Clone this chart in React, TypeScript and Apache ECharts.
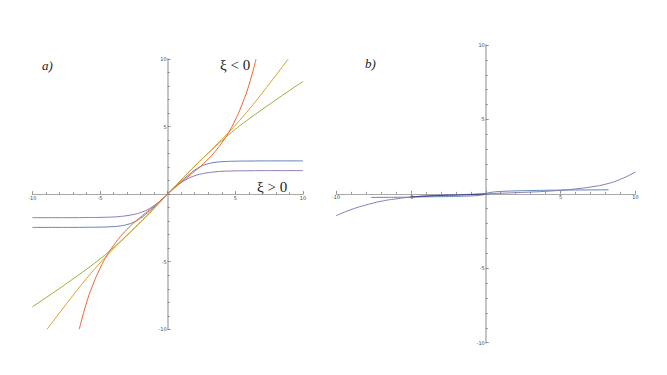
import React, { useEffect, useRef } from "react";
import * as echarts from "echarts";

// ---------- data ----------
const axisTicks = [-10, -5, 0, 5, 10];

// panel a)
const blueA: [number, number][] = [
  [-10, -2.46], [-9, -2.46], [-8, -2.46], [-7, -2.46], [-6, -2.45], [-5, -2.44], [-4, -2.4],
  [-3.5, -2.35], [-3, -2.25], [-2.5, -2.07], [-2, -1.78], [-1.5, -1.38], [-1, -0.95], [-0.5, -0.49],
  [0, 0], [0.5, 0.49], [1, 0.95], [1.5, 1.38], [2, 1.78], [2.5, 2.07], [3, 2.25], [3.5, 2.35],
  [4, 2.4], [5, 2.44], [6, 2.45], [7, 2.46], [8, 2.46], [9, 2.46], [10, 2.46],
];
const purpleA: [number, number][] = [
  [-10, -1.74], [-9, -1.74], [-8, -1.74], [-7, -1.74], [-6, -1.73], [-5, -1.72], [-4, -1.69],
  [-3.5, -1.65], [-3, -1.59], [-2.5, -1.5], [-2, -1.36], [-1.5, -1.15], [-1, -0.85], [-0.5, -0.47],
  [0, 0], [0.5, 0.47], [1, 0.85], [1.5, 1.15], [2, 1.36], [2.5, 1.5], [3, 1.59], [3.5, 1.65],
  [4, 1.69], [5, 1.72], [6, 1.73], [7, 1.74], [8, 1.74], [9, 1.74], [10, 1.74],
];
const greenA: [number, number][] = [
  [-10, -8.34], [-9, -7.67], [-8, -6.98], [-7, -6.28], [-6, -5.56], [-5, -4.8], [-4, -3.95],
  [-3.5, -3.5], [-3, -3.04], [-2.5, -2.57], [-2, -2.08], [-1.5, -1.58], [-1, -1.06], [-0.5, -0.53],
  [0, 0], [0.5, 0.53], [1, 1.06], [1.5, 1.58], [2, 2.08], [2.5, 2.57], [3, 3.04], [3.5, 3.5],
  [4, 3.95], [5, 4.8], [6, 5.56], [7, 6.28], [8, 6.98], [9, 7.67], [10, 8.34],
];
const orangeA: [number, number][] = [
  [-8.91, -10], [-8, -8.8], [-7, -7.5], [-6, -6.25], [-5, -5.1], [-4, -4.05], [-3.5, -3.55],
  [-3, -3.05], [-2.5, -2.55], [-2, -2.05], [-1.5, -1.55], [-1, -1.04], [-0.5, -0.52],
  [0, 0], [0.5, 0.52], [1, 1.04], [1.5, 1.55], [2, 2.05], [2.5, 2.55], [3, 3.05], [3.5, 3.55],
  [4, 4.05], [5, 5.1], [6, 6.25], [7, 7.5], [8, 8.8], [8.91, 10],
];
const redA: [number, number][] = [
  [-6.53, -10], [-6, -8.05], [-5.5, -6.65], [-5, -5.5], [-4.5, -4.55], [-4, -3.8], [-3.5, -3.15],
  [-3, -2.6], [-2.5, -2.12], [-2, -1.7], [-1.5, -1.28], [-1, -0.88], [-0.5, -0.45],
  [0, 0], [0.5, 0.45], [1, 0.88], [1.5, 1.28], [2, 1.7], [2.5, 2.12], [3, 2.6], [3.5, 3.15],
  [4, 3.8], [4.5, 4.55], [5, 5.5], [5.5, 6.65], [6, 8.05], [6.53, 10],
];

// panel b)
const blueB: [number, number][] = [
  [-7.67, -0.24], [-7, -0.235], [-6, -0.23], [-5, -0.22], [-4, -0.2], [-3, -0.19], [-2, -0.17],
  [-1, -0.14], [-0.5, -0.11], [-0.2, -0.07], [0, 0], [0.2, 0.07], [0.5, 0.12], [1, 0.16],
  [2, 0.2], [3, 0.22], [4, 0.24], [5, 0.25], [6, 0.26], [7, 0.265], [8.2, 0.27],
];
const purpleB: [number, number][] = [
  [-10, -1.47], [-9, -1.06], [-8, -0.75], [-7, -0.5], [-6, -0.34], [-5, -0.22], [-4, -0.14],
  [-3, -0.09], [-2, -0.06], [-1, -0.03], [0, 0], [1, 0.04], [2, 0.08], [3, 0.12], [4, 0.17],
  [5, 0.24], [6, 0.33], [7, 0.46], [8, 0.65], [9, 0.98], [10, 1.47],
];
const darkB: [number, number][] = [
  [-5, -0.2], [-4, -0.15], [-3, -0.11], [-2, -0.08], [-1, -0.05], [0, 0],
];

const COLORS = {
  blue: "#5E81B5",
  orange: "#E19C24",
  green: "#8FB032",
  red: "#EB6235",
  purple: "#8778B3",
  dark: "#3d3d7a",
};

const GRIDS = [
  { left: 32.3, top: 59, width: 270.7, height: 270.3 },
  { left: 336, top: 45, width: 299.5, height: 297.7 },
];

function makeAxes(idx: number) {
  const g = GRIDS[idx];
  const common = {
    gridIndex: idx,
    type: "value" as const,
    min: axisTicks[0],
    max: axisTicks[axisTicks.length - 1],
    interval: 5,
    splitLine: { show: false },
    minorTick: { show: true, splitNumber: 5, length: 2, lineStyle: { color: "#777", width: 0.8 } },
    axisTick: { show: true, inside: true, length: 3, lineStyle: { color: "#777", width: 0.8 } },
    axisLabel: {
      fontSize: 5,
      color: "#444",
      fontFamily: "DejaVu Sans",
      margin: 1,
      formatter: (v: number) => (v === 0 ? "" : String(v)),
    },
  };
  return {
    x: {
      ...common,
      position: "bottom",
      offset: -g.height / 2,
      axisLine: { show: true, onZero: false, lineStyle: { color: "#a8a8a8", width: 1 } },
    },
    y: {
      ...common,
      position: "left",
      offset: -g.width / 2,
      axisLine: { show: true, onZero: false, lineStyle: { color: "#c4c4c4", width: 2 } },
    },
  };
}

function line(name: string, data: [number, number][], color: string, idx: number) {
  return {
    name,
    type: "line",
    xAxisIndex: idx,
    yAxisIndex: idx,
    data,
    smooth: true,
    showSymbol: false,
    symbol: "none",
    clip: true,
    lineStyle: { color, width: 1 },
  };
}

export default function App() {
  const ref = useRef<HTMLDivElement>(null);
  useEffect(() => {
    if (!ref.current) return;
    const chart = echarts.init(ref.current, undefined, { renderer: "svg" });
    const a = makeAxes(0);
    const b = makeAxes(1);
    chart.setOption({
      animation: false,
      backgroundColor: "#ffffff",
      grid: GRIDS,
      xAxis: [a.x, b.x],
      yAxis: [a.y, b.y],
      series: [
        line("blue", blueA, COLORS.blue, 0),
        line("purple", purpleA, COLORS.purple, 0),
        line("green", greenA, COLORS.green, 0),
        line("orange", orangeA, COLORS.orange, 0),
        line("red", redA, COLORS.red, 0),
        line("blueB", blueB, COLORS.blue, 1),
        line("purpleB", purpleB, COLORS.purple, 1),
        line("darkB", darkB, COLORS.dark, 1),
      ],
      graphic: [
        {
          type: "text",
          left: 42,
          top: 59,
          style: { text: "a)", font: "italic 13px 'Liberation Serif'", fill: "#222" },
        },
        {
          type: "text",
          left: 365,
          top: 57,
          style: { text: "b)", font: "italic 13px 'Liberation Serif'", fill: "#222" },
        },
        {
          type: "text",
          left: 220,
          top: 57,
          style: { text: "ξ < 0", font: "15px 'Liberation Serif'", fill: "#222" },
        },
        {
          type: "text",
          left: 257,
          top: 179,
          style: { text: "ξ > 0", font: "15px 'Liberation Serif'", fill: "#222" },
        },
      ],
    });
    return () => chart.dispose();
  }, []);
  return (
    <div
      ref={ref}
      style={{ position: "fixed", left: 0, top: 0, width: 667, height: 375, background: "#fff" }}
    />
  );
}
